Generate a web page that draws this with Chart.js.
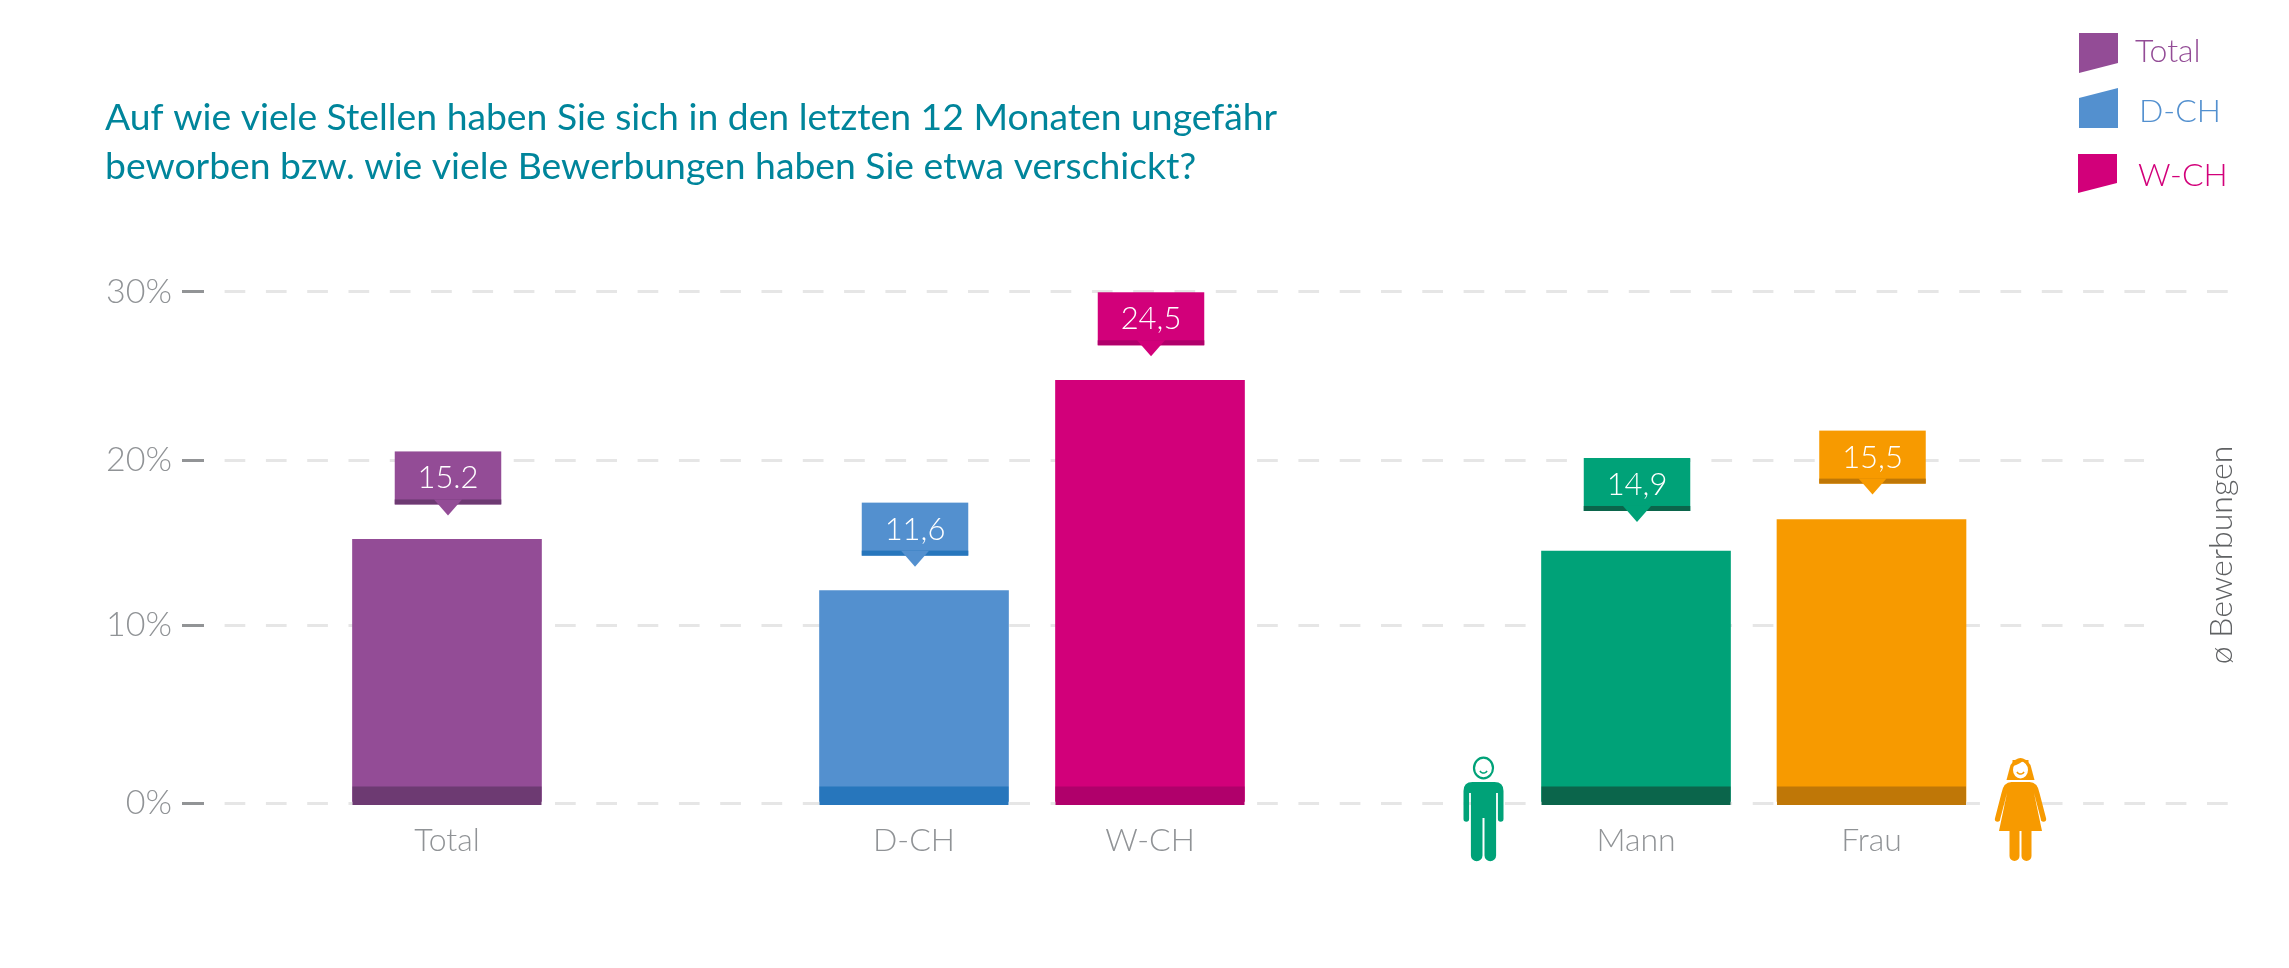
<!DOCTYPE html>
<html lang="de">
<head>
<meta charset="utf-8">
<style>
html,body{margin:0;padding:0;background:#fff}
#wrap{position:relative;width:2289px;height:968px}
</style>
<script src="https://cdn.jsdelivr.net/npm/chart.js@4/dist/chart.umd.min.js"></script>
</head>
<body>
<div id="wrap"><canvas id="c" width="2289" height="968"></canvas></div>
<script>
// ---- data ----
const categories = ['Total', 'D-CH', 'W-CH', 'Mann', 'Frau'];
const barValues = [15.2, 12.1, 24.75, 14.5, 16.4];
const calloutLabels = ['15.2', '11,6', '24,5', '14,9', '15,5'];
const barColors = ['#934c96', '#5390cf', '#d2007a', '#00a278', '#f79a00'];
const stripColors = ['#6d3a72', '#2776bc', '#b0006b', '#0b654b', '#bf7707'];
const yTickValues = [0, 10, 20, 30];
const yTickLabels = ['0%', '10%', '20%', '30%'];
const titleLines = ['Auf wie viele Stellen haben Sie sich in den letzten 12 Monaten ungefähr',
                    'beworben bzw. wie viele Bewerbungen haben Sie etwa verschickt?'];
const legendNames = ['Total', 'D-CH', 'W-CH'];
const legendColors = ['#934c96', '#5390cf', '#d2007a'];
const sideLabel = 'ø Bewerbungen';

const FONT = 'Lato';
const calloutGaps = [24, 24, 24, 29, 25];

// the printed axis is not evenly spaced: ticks sit where the picture has them
class AnchoredLinear extends Chart.LinearScale {
  static id = 'anchoredLinear';
  static defaults = Chart.LinearScale.defaults;
  getPixelForValue(v) {
    const a = this.options.anchors;
    let i = 0;
    while (i < a.length - 2 && v > a[i + 1][0]) i++;
    const [v0, f0] = a[i], [v1, f1] = a[i + 1];
    const f = f0 + (v - v0) / (v1 - v0) * (f1 - f0);
    return this.bottom - f * (this.bottom - this.top);
  }
  getValueForPixel(p) {
    const a = this.options.anchors, f = (this.bottom - p) / (this.bottom - this.top);
    let i = 0;
    while (i < a.length - 2 && f > a[i + 1][1]) i++;
    const [v0, f0] = a[i], [v1, f1] = a[i + 1];
    return v0 + (f - f0) / (f1 - f0) * (v1 - v0);
  }
}
// categories are grouped with uneven gaps
class AnchoredCategory extends Chart.CategoryScale {
  static id = 'anchoredCategory';
  static defaults = Chart.CategoryScale.defaults;
  getPixelForValue(v) {
    if (typeof v !== 'number') v = this.parse(v);
    return this.left + this.options.anchors[v] * this.width;
  }
}
Chart.register(AnchoredLinear, AnchoredCategory);

function manIcon(ctx, cx, top, col) {
  ctx.save(); ctx.translate(cx, top); ctx.fillStyle = col; ctx.strokeStyle = col;
  ctx.lineWidth = 2.2;
  ctx.beginPath(); ctx.ellipse(0, 11, 9.5, 10.3, 0, 0, Math.PI * 2); ctx.stroke();
  ctx.lineWidth = 1.4;
  ctx.beginPath(); ctx.arc(0, 12, 4, 0.15 * Math.PI, 0.85 * Math.PI); ctx.stroke();
  ctx.beginPath();
  ctx.moveTo(-11, 25); ctx.lineTo(11, 25);
  ctx.quadraticCurveTo(20, 25, 20, 34);
  ctx.lineTo(20, 62); ctx.arc(17.2, 62, 2.8, 0, Math.PI); ctx.lineTo(14.4, 36);
  ctx.lineTo(12.6, 36); ctx.lineTo(12.6, 98.5);
  ctx.arc(6.8, 98.5, 5.8, 0, Math.PI); ctx.lineTo(1, 61); ctx.lineTo(-1, 61);
  ctx.lineTo(-1, 98.5);
  ctx.arc(-6.8, 98.5, 5.8, 0, Math.PI); ctx.lineTo(-12.6, 36); ctx.lineTo(-14.4, 36);
  ctx.lineTo(-14.4, 62); ctx.arc(-17.2, 62, 2.8, 0, Math.PI); ctx.lineTo(-20, 34);
  ctx.quadraticCurveTo(-20, 25, -11, 25);
  ctx.closePath(); ctx.fill();
  ctx.restore();
}
function womanIcon(ctx, cx, top, col) {
  ctx.save(); ctx.translate(cx, top); ctx.fillStyle = col; ctx.strokeStyle = col;
  // hair
  ctx.beginPath(); ctx.moveTo(-14, 23); ctx.lineTo(-10, 8);
  ctx.quadraticCurveTo(0, -6, 10, 8); ctx.lineTo(14, 23); ctx.closePath(); ctx.fill();
  // face
  ctx.fillStyle = '#fff';
  ctx.beginPath(); ctx.ellipse(0, 13, 7.5, 8.5, 0, 0, Math.PI * 2); ctx.fill();
  ctx.fillStyle = col;
  ctx.beginPath(); ctx.moveTo(-8, 9); ctx.quadraticCurveTo(0, 7, 3, 3); ctx.quadraticCurveTo(6, 8, 8, 9);
  ctx.lineTo(8, 3); ctx.lineTo(-8, 3); ctx.closePath(); ctx.fill();
  ctx.lineWidth = 1.4;
  ctx.beginPath(); ctx.arc(0, 13, 4, 0.15 * Math.PI, 0.85 * Math.PI); ctx.stroke();
  // dress with arms
  ctx.beginPath();
  ctx.moveTo(-9, 25); ctx.lineTo(9, 25); ctx.quadraticCurveTo(17, 25, 19, 36);
  ctx.lineTo(25.5, 61); ctx.arc(23, 62, 2.7, 0, Math.PI); ctx.lineTo(13.5, 36);
  ctx.lineTo(21.5, 74); ctx.lineTo(11, 74); ctx.lineTo(11, 99);
  ctx.arc(6, 99, 5, 0, Math.PI); ctx.lineTo(1, 74); ctx.lineTo(-1, 74); ctx.lineTo(-1, 99);
  ctx.arc(-6, 99, 5, 0, Math.PI); ctx.lineTo(-11, 74); ctx.lineTo(-21.5, 74); ctx.lineTo(-13.5, 36);
  ctx.lineTo(-20.3, 62); ctx.arc(-23, 62, 2.7, 0, Math.PI); ctx.lineTo(-19, 36);
  ctx.quadraticCurveTo(-17, 25, -9, 25);
  ctx.closePath(); ctx.fill();
  ctx.restore();
}

const decorations = {
  id: 'decorations',
  beforeDatasetsDraw(chart) {
    // the 10% and 20% guides stop short of the side label
    const { ctx, chartArea: a, scales: { y } } = chart;
    ctx.save(); ctx.fillStyle = '#fff';
    ctx.fillRect(2144, y.getPixelForValue(20) - 4, a.right - 2144 + 2, y.getPixelForValue(10) - y.getPixelForValue(20) + 8);
    ctx.restore();
  },
  afterDatasetsDraw(chart) {
    const { ctx, scales: { y } } = chart;
    const bars = chart.getDatasetMeta(0).data;
    const base = y.getPixelForValue(0);
    ctx.save();
    bars.forEach((b, i) => {
      const w = b.width, l = b.x - w / 2;
      // dark foot of the bar
      ctx.fillStyle = stripColors[i];
      ctx.fillRect(l, base - 16.5, w, 18.5);
      // value callout
      const cx = b.x + 1;
      const tip = b.y - calloutGaps[i], cw = 106.5, bh = 11;
      const bot = tip - bh, topY = bot - 53;
      ctx.fillStyle = barColors[i];
      ctx.fillRect(cx - cw / 2, topY, cw, 53);
      ctx.fillStyle = stripColors[i];
      ctx.fillRect(cx - cw / 2, bot - 5, cw, 5);
      ctx.fillStyle = barColors[i];
      ctx.beginPath();
      ctx.moveTo(cx - 14, bot - 5); ctx.lineTo(cx + 14, bot - 5);
      ctx.lineTo(cx, tip); ctx.closePath(); ctx.fill();
      ctx.fillStyle = '#fff';
      ctx.font = '300 31px ' + FONT;
      ctx.textAlign = 'center'; ctx.textBaseline = 'alphabetic';
      ctx.fillText(calloutLabels[i], cx, topY + 37);
    });
    manIcon(ctx, 1483.5, 757, barColors[3]);
    womanIcon(ctx, 2020.5, 757, barColors[4]);

    // legend swatches and names
    const sw = [
      [[2079, 33], [2118, 33], [2118, 63], [2079, 73]],
      [[2079, 98], [2118, 88], [2118, 128], [2079, 128]],
      [[2078, 154], [2117, 154], [2117, 183], [2078, 193]]
    ];
    const tx = [[2135, 62], [2139, 122], [2138, 186]];
    sw.forEach((p, i) => {
      ctx.fillStyle = legendColors[i];
      ctx.beginPath(); p.forEach((q, j) => j ? ctx.lineTo(q[0], q[1]) : ctx.moveTo(q[0], q[1]));
      ctx.closePath(); ctx.fill();
      ctx.font = '300 32px ' + FONT;
      ctx.textAlign = 'left'; ctx.textBaseline = 'alphabetic';
      ctx.fillText(legendNames[i], tx[i][0], tx[i][1]);
    });

    // rotated side label
    ctx.translate(2232, 555); ctx.rotate(-Math.PI / 2);
    ctx.fillStyle = '#5f6163'; ctx.font = '300 32px ' + FONT;
    ctx.textAlign = 'center'; ctx.textBaseline = 'alphabetic';
    ctx.fillText(sideLabel, 0, 0);
    ctx.restore();
  }
};

new Chart(document.getElementById('c'), {
  type: 'bar',
  data: {
    labels: categories,
    datasets: [{ data: barValues, backgroundColor: barColors, barThickness: 189, borderWidth: 0 }]
  },
  plugins: [decorations],
  options: {
    responsive: false, animation: false, events: [], devicePixelRatio: 1,
    layout: { padding: { left: 105, top: 94, right: 56, bottom: 108.5 } },
    plugins: {
      legend: { display: false }, tooltip: { enabled: false },
      title: {
        display: true, text: titleLines, align: 'start', color: '#00859b',
        font: { family: FONT, size: 37.3, weight: '400', lineHeight: 1.3 },
        padding: { top: 0, bottom: 101 }
      }
    },
    scales: {
      x: {
        type: 'anchoredCategory',
        anchors: [0.11976, 0.34993, 0.46624, 0.70577, 0.82183],
        grid: { display: false }, border: { display: false },
        ticks: { color: '#909396', font: { family: FONT, size: 32, weight: '300' }, padding: 10, maxRotation: 0, autoSkip: false },
        afterFit(s) { s.height = 56.5; }
      },
      y: {
        type: 'anchoredLinear',
        anchors: [[0, 0], [10, 0.3477], [20, 0.6709], [30, 1]],
        min: 0, max: 30,
        afterBuildTicks(s) { s.ticks = yTickValues.map(v => ({ value: v })); },
        afterFit(s) { s.width = 99; },
        border: { display: false, dash: [20.7, 20.6], dashOffset: 20.7 },
        grid: {
          color: '#e6e6e6', lineWidth: 3,
          tickColor: '#929496', tickWidth: 3, tickLength: 22, tickBorderDash: [], tickBorderDashOffset: 0
        },
        ticks: {
          color: '#909396', font: { family: FONT, size: 34, weight: '300' }, padding: 10,
          callback: (v, i) => yTickLabels[i]
        }
      }
    }
  }
});
</script>
</body>
</html>
